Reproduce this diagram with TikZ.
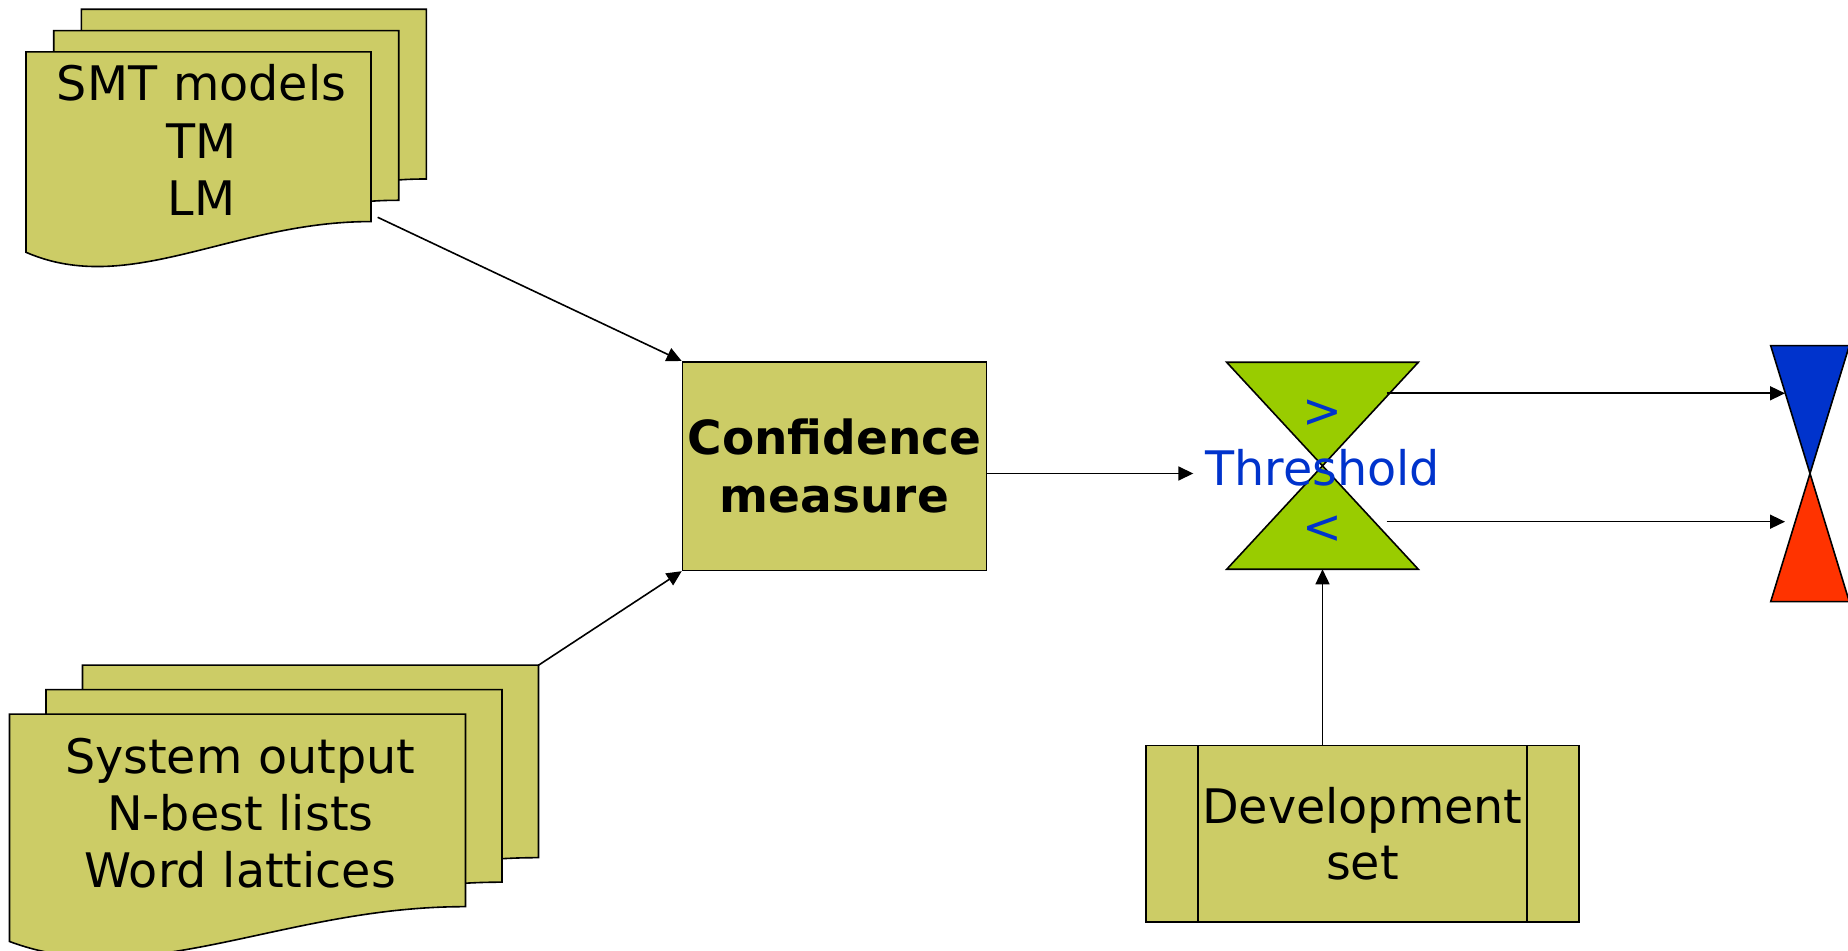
\documentclass[tikz,border=0pt]{standalone}
\usepackage{fontspec}
\setmainfont{DejaVu Sans}
\usetikzlibrary{arrows.meta}
\definecolor{docfill}{HTML}{CCCC66}
\definecolor{gatefill}{HTML}{99CC00}
\definecolor{passfill}{HTML}{0033CC}
\definecolor{failfill}{HTML}{FF3300}
\definecolor{labelblue}{HTML}{0033CC}

\tikzset{
  outline/.style={draw=black, line width=0.8pt, line join=miter},
  paper/.style={outline, fill=docfill},
  % flowchart "document" page: flat top, wavy bottom
  pics/docpage/.style 2 args={code={
    \path[paper] (0,0) -- (#1,0) -- (#1,0.802*#2)
      .. controls (0.6*#1,0.80*#2) and (0.3*#1,1.16*#2) .. (0,0.947*#2) -- cycle;
  }},
  doclabel/.style={anchor=base, text width=230pt, align=center, inner sep=0pt,
    font=\fontsize{23.8}{28.65}\selectfont},
  procbox/.style={paper, rectangle, inner sep=0pt, align=center},
  conn/.style={draw=black, line width=0.8pt, -{Triangle[length=7.5pt,width=7pt]}},
  bluetext/.style={text=labelblue, inner sep=0pt, font=\fontsize{23.8}{28.65}\selectfont},
}

\begin{document}
\begin{tikzpicture}[x=0.5pt,y=-0.5pt]
\useasboundingbox (0,0) rectangle (1848,951);
\clip (0,0) rectangle (1848,951);

% model files (stack of three pages)
\pic at (81.4,9.3) {docpage={345}{211.6}};
\pic at (53.7,30.6) {docpage={345}{211.6}};
\pic at (26,51.9) {docpage={345}{211.6}};
\node[doclabel] (smt) at (201.5,101) {SMT models\\TM\\LM};

% translation output files (stack of three pages)
\pic at (82.5,665.2) {docpage={456}{240}};
\pic at (46,689.7) {docpage={456}{240}};
\pic at (9.5,714.2) {docpage={456}{240}};
\node[doclabel] (sys) at (240.3,773) {System output\\N-best lists\\Word lattices};

% confidence estimation step
\node[procbox, minimum width=152pt, minimum height=104.3pt,
      font=\bfseries\fontsize{23.5}{29}\selectfont] (conf) at (834.5,466.1)
      {Confidence\\measure};

% development data (predefined process)
\node[procbox, minimum width=216.3pt, minimum height=88pt,
      font=\fontsize{23.8}{28.35}\selectfont,
      path picture={
        \draw[line width=0.8pt] ([xshift=26pt]path picture bounding box.north west)
          -- ([xshift=26pt]path picture bounding box.south west);
        \draw[line width=0.8pt] ([xshift=-26pt]path picture bounding box.north east)
          -- ([xshift=-26pt]path picture bounding box.south east);
      }] (dev) at (1362.4,833.7) {Development\\set};

% threshold gate
\coordinate (gtl) at (1226.7,362.3);
\coordinate (gtr) at (1418.3,362.3);
\coordinate (gbl) at (1226.7,569.3);
\coordinate (gbr) at (1418.3,569.3);
\coordinate (gapex) at (1322.5,465.8);
\path[outline, fill=gatefill] (gtl) -- (gtr) -- (gapex) -- cycle;
\path[outline, fill=gatefill] (gbl) -- (gbr) -- (gapex) -- cycle;
\node[bluetext] (gt) at (1322.7,414) {>};
\node[bluetext] (lt) at (1322.2,530) {<};
\node[bluetext, anchor=base] (thr) at (1322.7,485.7) {Threshold};

% accept / reject outcome
\coordinate (otl) at (1770.7,345.7);
\coordinate (otr) at (1849.3,345.7);
\coordinate (obl) at (1770.7,601.7);
\coordinate (obr) at (1849.3,601.7);
\coordinate (oapex) at (1810,473.5);
\path[outline, fill=passfill] (otl) -- (otr) -- (oapex) -- cycle;
\path[outline, fill=failfill] (obl) -- (obr) -- (oapex) -- cycle;

% connectors
\coordinate (smtout) at (377.7,217.3);
\coordinate (sysout) at (538.5,665.2);
\coordinate (thrin) at (1193.3,473.5);
\coordinate (gbot) at (1322.5,569.3);
\coordinate (hiout) at (1386.7,393.3);
\coordinate (hiin) at (1785,393.3);
\coordinate (loout) at (1386.7,521.7);
\coordinate (loin) at (1785,521.7);

\draw[conn] (smtout) -- (conf.north west);
\draw[conn] (sysout) -- (conf.south west);
\draw[conn] (conf.east |- thrin) -- (thrin);
\draw[conn] (dev.north -| gbot) -- (gbot);
\draw[conn] (hiout) -- (hiin);
\draw[conn] (loout) -- (loin);
\end{tikzpicture}
\end{document}
